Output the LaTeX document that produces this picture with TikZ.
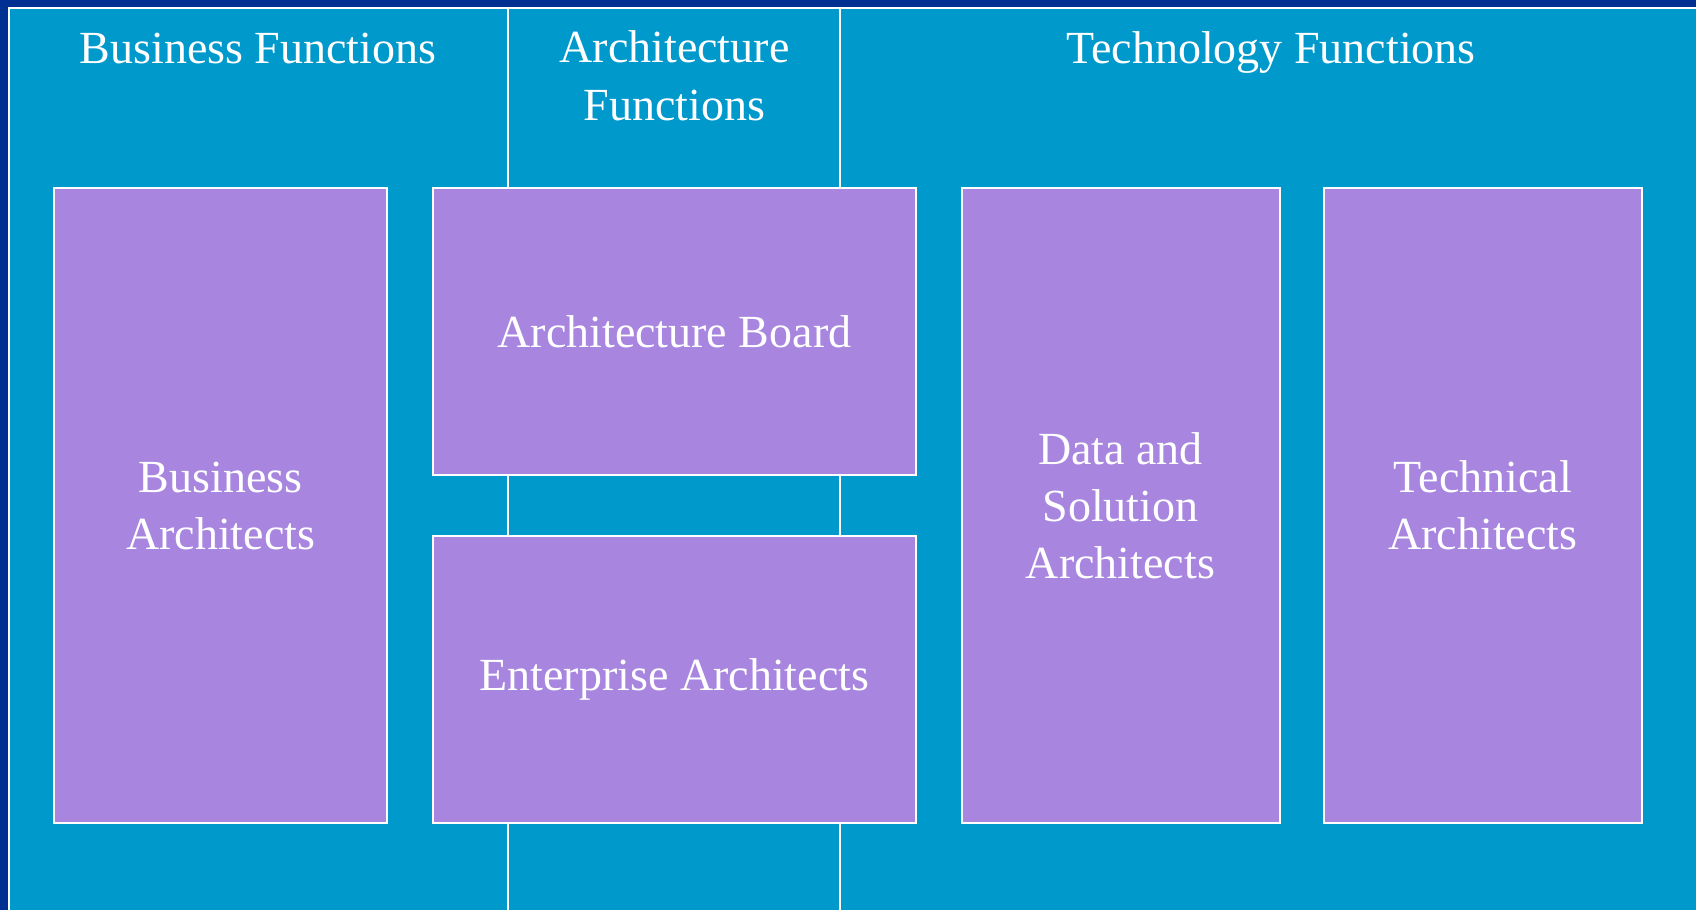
\documentclass[tikz,border=0pt]{standalone}
\usepackage{fontspec}
\setmainfont{Liberation Serif}
\usepackage{tikz}

\definecolor{frameblue}{RGB}{0,48,145}
\definecolor{panelblue}{RGB}{0,153,204}
\definecolor{rolepurple}{RGB}{168,134,224}

\begin{document}
\begin{tikzpicture}[x=0.75pt,y=0.75pt,yscale=-1,xscale=1,
  hdr/.style={anchor=base,inner sep=0.75pt,align=center,text=white,
    font=\fontsize{34.5}{42.8}\selectfont},
  rolebox/.style={draw=white,line width=1.5pt,fill=rolepurple,inner sep=0pt,
    align=center,text=white,font=\fontsize{34.5}{42.8}\selectfont},
  divider/.style={draw=white,line width=1.5pt}]
\clip (0,0) rectangle (1696,910);

% Background
\fill [frameblue] (0,0) rectangle (1696,910);
\draw [white,line width=1.5pt,fill=panelblue] (8.5,7.5) rectangle (1720,930);

% Dividers
\coordinate (divAtop) at (508.4,7.5);
\coordinate (divAbot) at (508.4,930);
\coordinate (divBtop) at (840.4,7.5);
\coordinate (divBbot) at (840.4,930);
\draw [divider] (divAtop) -- (divAbot);
\draw [divider] (divBtop) -- (divBbot);

% Text Node
\node (bizfun) at (258,63) [hdr] {Business Functions};
% Text Node (base = last line)
\node (archfun) at (674.5,120) [hdr] {Architecture\\Functions};
% Text Node
\node (techfun) at (1271,63) [hdr] {Technology Functions};

% Shape: Rectangle
\node (bizarch) at (220.6,505.6) [rolebox,minimum width=249.75pt,minimum height=476.25pt] {Business\\Architects};
% Shape: Rectangle
\node (archboard) at (674.4,331.5) [rolebox,minimum width=362.5pt,minimum height=215.25pt] {Architecture Board};
% Shape: Rectangle
\node (entarch) at (674.4,679.2) [rolebox,minimum width=362.5pt,minimum height=215.5pt] {Enterprise Architects};
% Shape: Rectangle
\node (dataarch) at (1120.5,505.6) [rolebox,minimum width=238.5pt,minimum height=476.25pt] {Data and\\Solution\\Architects};
% Shape: Rectangle
\node (techarch) at (1482.9,505.6) [rolebox,minimum width=238.5pt,minimum height=476.25pt] {Technical\\Architects};

\end{tikzpicture}
\end{document}
